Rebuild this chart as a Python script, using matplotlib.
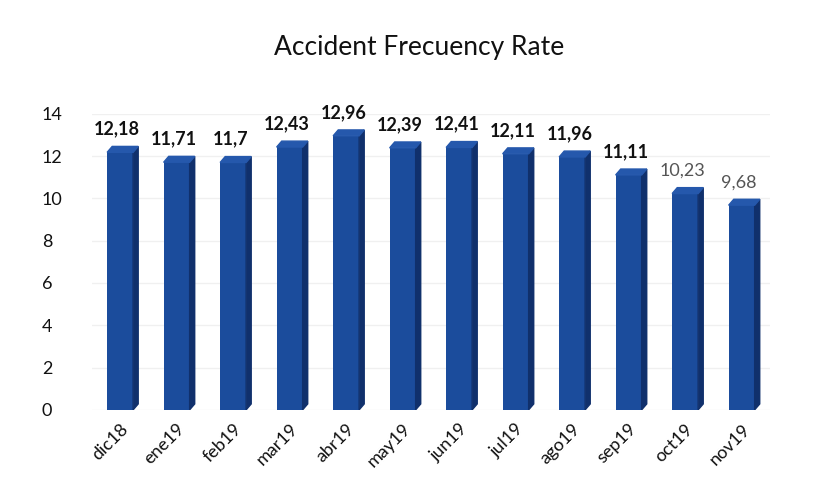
import numpy as np
import matplotlib.pyplot as plt
from matplotlib.patches import Polygon

plt.rcParams['font.family'] = ['Lato', 'DejaVu Sans']

months = ["dic18", "ene19", "feb19", "mar19", "abr19", "may19",
          "jun19", "jul19", "ago19", "sep19", "oct19", "nov19"]
rates = [12.18, 11.71, 11.7, 12.43, 12.96, 12.39,
         12.41, 12.11, 11.96, 11.11, 10.23, 9.68]
labels = ["12,18", "11,71", "11,7", "12,43", "12,96", "12,39",
          "12,41", "12,11", "11,96", "11,11", "10,23", "9,68"]

front = "#1b4c9c"
side = "#10306c"
top = "#2558ac"

fig = plt.figure(figsize=(8.13, 4.95), dpi=100)
ax = fig.add_axes([0.113, 0.172, 0.834, 0.598])

x = np.arange(len(months))
w = 0.46
dx, dy = 0.09, 0.28   # depth of the fake 3d

ax.bar(x, rates, width=w, color=front, zorder=3)
for xi, v in zip(x, rates):
    l, r = xi - w / 2, xi + w / 2
    ax.add_patch(Polygon([(r, 0), (r + dx, dy), (r + dx, v + dy), (r, v)],
                         closed=True, color=side, zorder=3))
    ax.add_patch(Polygon([(l, v), (l + dx, v + dy), (r + dx, v + dy), (r, v)],
                         closed=True, color=top, zorder=3))

for i, (xi, v, t) in enumerate(zip(x, rates, labels)):
    c = "#555555" if i >= 10 else "#111111"
    fw = "normal" if i >= 10 else "bold"
    ax.text(xi - 0.05, v + 0.7, t, ha="center", va="bottom", fontsize=13,
            color=c, fontweight=fw, clip_on=False)

ax.set_xlim(-0.5, len(months) - 0.5)
ax.set_ylim(0, 14)
ax.set_yticks(range(0, 15, 2))
ax.set_xticks(x)
ax.set_xticklabels(months, rotation=45, ha="right", rotation_mode="anchor")
ax.tick_params(axis="both", length=0, labelsize=13, pad=8, labelcolor="#111111")
ax.tick_params(axis="y", pad=36)
for lab in ax.get_yticklabels():
    lab.set_ha("left")
ax.grid(axis="y", color="#f0f0f0", linewidth=1, zorder=0)
for s in ax.spines.values():
    s.set_visible(False)

fig.suptitle("Accident Frecuency Rate", x=0.515, y=0.93, fontsize=19,
             color="#111111")

fig.savefig("out.png", dpi=100)
